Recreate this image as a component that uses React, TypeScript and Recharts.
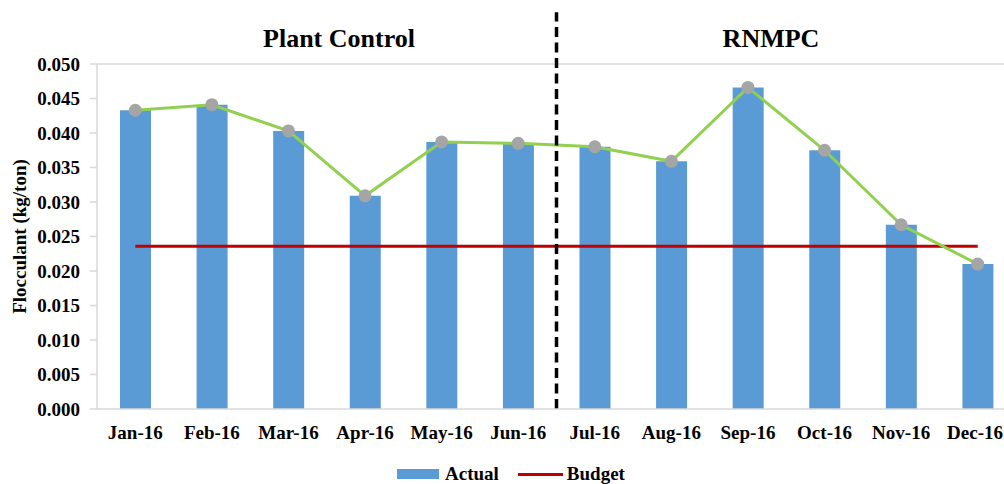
import React from "react";
import {
  ComposedChart,
  Bar,
  Line,
  XAxis,
  YAxis,
  ReferenceLine,
} from "recharts";

const months = [
  "Jan-16", "Feb-16", "Mar-16", "Apr-16", "May-16", "Jun-16",
  "Jul-16", "Aug-16", "Sep-16", "Oct-16", "Nov-16", "Dec-16",
];
const actual = [
  0.0433, 0.0441, 0.0403, 0.0309, 0.0387, 0.0385,
  0.038, 0.0359, 0.0466, 0.0375, 0.0267, 0.021,
];
const budget = [
  0.0236, 0.0236, 0.0236, 0.0236, 0.0236, 0.0236,
  0.0236, 0.0236, 0.0236, 0.0236, 0.0236, 0.0236,
];
const yTicks = [0, 0.005, 0.01, 0.015, 0.02, 0.025, 0.03, 0.035, 0.04, 0.045, 0.05];
const sectionTitles = ["Plant Control", "RNMPC"];

const data = months.map((m, i) => ({
  idx: i,
  month: m,
  actual: actual[i],
  budget: budget[i],
}));

const FONT = '"Liberation Serif", "Times New Roman", serif';
const tickStyle = { fontFamily: FONT, fontWeight: 700, fontSize: 19, fill: "#000" };

// month tick; the last one is kept inside the page edge
function MonthTick(props: any) {
  const { x, y, payload } = props;
  const i = payload.value as number;
  const last = i === months.length - 1;
  return (
    <text
      x={last ? Math.min(x + 28, 1003) : x}
      y={y}
      dy="0.71em"
      textAnchor={last ? "end" : "middle"}
      {...tickStyle}
    >
      {months[i]}
    </text>
  );
}

export default function App() {
  return (
    <div
      style={{
        position: "absolute",
        left: 0,
        top: 0,
        width: 1004,
        height: 484,
        overflow: "hidden",
        background: "#fff",
        fontFamily: FONT,
      }}
    >
      <ComposedChart
        width={1016}
        height={484}
        data={data}
        margin={{ top: 64, right: 0, left: 0, bottom: 45 }}
      >
        <XAxis
          dataKey="idx"
          type="number"
          domain={[-0.5, 11.5]}
          ticks={months.map((_, i) => i)}
          interval={0}
          tickLine={false}
          tickSize={0}
          tickMargin={17}
          height={30}
          axisLine={{ stroke: "#D9D9D9", strokeWidth: 1.5 }}
          tick={<MonthTick />}
        />
        <YAxis
          type="number"
          domain={[0, 0.05]}
          allowDataOverflow
          ticks={yTicks}
          interval={0}
          tickFormatter={(v: number) => v.toFixed(3)}
          width={97}
          tickSize={7}
          tickMargin={10}
          axisLine={{ stroke: "#D9D9D9", strokeWidth: 1.5 }}
          tickLine={{ stroke: "#D9D9D9", strokeWidth: 1.5 }}
          tick={tickStyle}
          label={{
            value: "Flocculant (kg/ton)",
            angle: -90,
            position: "insideLeft",
            offset: 19,
            style: {
              textAnchor: "middle",
              fontFamily: FONT,
              fontWeight: 700,
              fontSize: 19,
              fill: "#000",
            },
          }}
        />
        <ReferenceLine y={0.05} stroke="#D9D9D9" strokeWidth={1.5} />
        <Bar
          dataKey="actual"
          name="Actual"
          fill="#5B9BD5"
          barSize={31}
          isAnimationActive={false}
        />
        <Line
          dataKey="budget"
          name="Budget"
          stroke="#C00000"
          strokeWidth={3}
          dot={false}
          activeDot={false}
          isAnimationActive={false}
        />
        <Line
          dataKey="actual"
          name="Actual trend"
          stroke="#92D050"
          strokeWidth={3}
          dot={{ r: 6.5, fill: "#A5A5A5", stroke: "none" }}
          activeDot={false}
          legendType="none"
          isAnimationActive={false}
        />
        <ReferenceLine
          segment={[
            { x: 5.5, y: 0 },
            { x: 5.5, y: 0.0575 },
          ]}
          ifOverflow="visible"
          stroke="#000"
          strokeWidth={3.5}
          strokeDasharray="10 5.5"
        />
      </ComposedChart>

      <svg
        width={1004}
        height={60}
        style={{ position: "absolute", left: 0, top: 0, pointerEvents: "none" }}
      >
        <text x={339} y={47} textAnchor="middle" fontFamily={FONT} fontWeight={700} fontSize={26} fill="#000">
          {sectionTitles[0]}
        </text>
        <text x={771} y={47} textAnchor="middle" fontFamily={FONT} fontWeight={700} fontSize={26} fill="#000">
          {sectionTitles[1]}
        </text>
      </svg>

      <div
        style={{
          position: "absolute",
          left: 397,
          top: 462,
          height: 24,
          display: "flex",
          alignItems: "center",
          fontWeight: 700,
          fontSize: 19,
          color: "#000",
          whiteSpace: "nowrap",
        }}
      >
        <span style={{ display: "inline-block", width: 42, height: 10, background: "#5B9BD5", marginRight: 6 }} />
        <span>Actual</span>
        <span style={{ display: "inline-block", width: 45, height: 3, background: "#C00000", marginLeft: 19, marginRight: 4 }} />
        <span>Budget</span>
      </div>
    </div>
  );
}
